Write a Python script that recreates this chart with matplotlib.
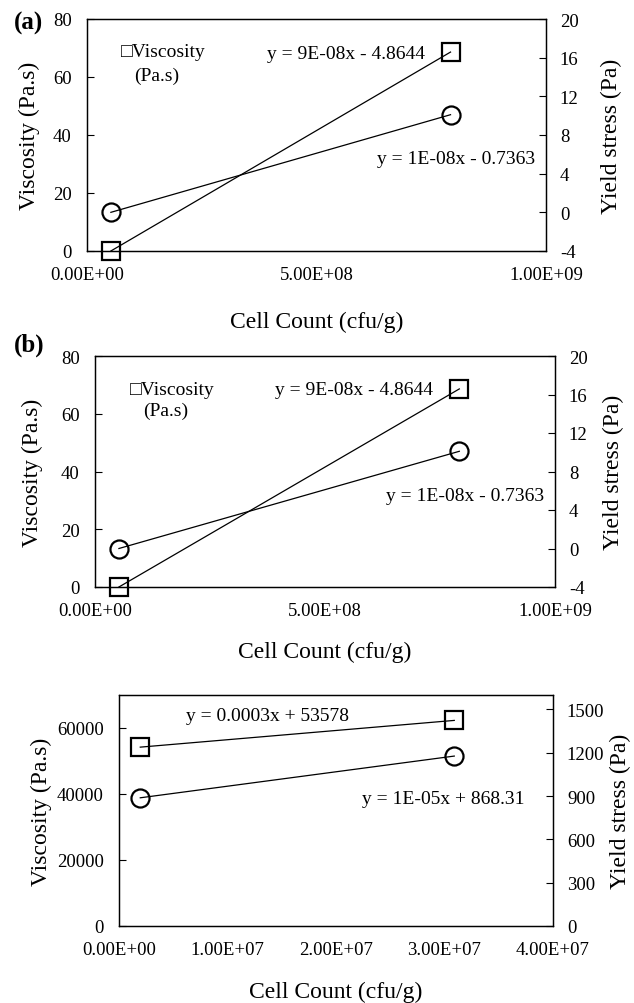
import matplotlib
matplotlib.use("Agg")
import matplotlib.pyplot as plt
from matplotlib.ticker import FuncFormatter

plt.rcParams['font.family'] = ['Liberation Serif', 'DejaVu Serif']
plt.rcParams['axes.unicode_minus'] = False

# panels (a) and (b): same data
ab_cells = [5.2e7, 7.92e8]
ab_visc = [0.0, 68.6]
ab_yield = [0.0, 10.1]
ab_eq_visc = 'y = 9E-08x - 4.8644'
ab_eq_yield = 'y = 1E-08x - 0.7363'
ab_xticks = [0, 5e8, 1e9]
ab_vticks = [0, 20, 40, 60, 80]
ab_yticks = [-4, 0, 4, 8, 12, 16, 20]

# panel (c)
c_cells = [1.96e6, 3.09e7]
c_visc = [54200, 62300]
c_yield = [888, 1177]
c_eq_visc = 'y = 0.0003x + 53578'
c_eq_yield = 'y = 1E-05x + 868.31'
c_xticks = [0, 1e7, 2e7, 3e7, 4e7]
c_vticks = [0, 20000, 40000, 60000]
c_yticks = [0, 300, 600, 900, 1200, 1500]

W, H = 634, 1004
fig = plt.figure(figsize=(W / 100, H / 100), dpi=100)


def box(l, r, t, b):
    return [l / W, 1 - b / H, (r - l) / W, (b - t) / H]


def panel(rect, cells, visc, yld, xticks, vticks, yticks, vlim, ylim, xlim,
          eq1, eq1pos, eq2, eq2pos, ylab_x, ylab2_x, xlab_y, legend=None):
    ax = fig.add_axes(rect)
    ax2 = ax.twinx()
    ax.plot(cells, visc, color='black', lw=0.9, marker='s', ms=13,
            mfc='none', mec='black', mew=1.6, zorder=3, clip_on=False)
    ax2.plot(cells, yld, color='black', lw=0.9, marker='o', ms=13,
             mfc='none', mec='black', mew=1.6, zorder=3, clip_on=False)
    ax.set_xlim(xlim)
    ax.set_ylim(vlim)
    ax2.set_ylim(ylim)
    ax.set_xticks(xticks)
    ax.xaxis.set_major_formatter(FuncFormatter(lambda v, p: f'{v:.2E}'))
    ax.set_yticks(vticks)
    ax2.set_yticks(yticks)
    ax.tick_params(axis='x', length=0, pad=11, labelsize=13.5)
    ax.tick_params(axis='y', direction='in', length=5, width=0.8, pad=11, labelsize=13.5)
    ax2.tick_params(axis='y', direction='in', length=5, width=0.8, pad=10, labelsize=13.5)
    for a in (ax, ax2):
        for s in a.spines.values():
            s.set_linewidth(0.9)
    ax.set_ylabel('Viscosity (Pa.s)', fontsize=17)
    ax2.set_ylabel('Yield stress (Pa)', fontsize=17)
    ax.set_xlabel('Cell Count (cfu/g)', fontsize=17)
    ax.yaxis.set_label_coords(ylab_x, 0.5)
    ax2.yaxis.set_label_coords(ylab2_x, 0.5)
    ax.xaxis.set_label_coords(0.5, xlab_y)
    for lab in (ax.yaxis.label, ax2.yaxis.label, ax.xaxis.label):
        lab.set_va('center')
        lab.set_ha('center')
    ax2.text(eq1pos[0], eq1pos[1], eq1, transform=ax2.transAxes,
             ha='center', va='center', fontsize=14)
    ax2.text(eq2pos[0], eq2pos[1], eq2, transform=ax2.transAxes,
             ha='center', va='center', fontsize=14)
    if legend:
        ax2.text(legend[0], legend[1], '\u25a1Viscosity', transform=ax2.transAxes,
                 ha='left', va='center', fontsize=14)
        ax2.text(legend[0] + 0.028, legend[2], '(Pa.s)', transform=ax2.transAxes,
                 ha='left', va='center', fontsize=14)
    return ax


panel(box(87, 546, 20, 252), ab_cells, ab_visc, ab_yield, ab_xticks, ab_vticks,
      ab_yticks, (0, 80), (-4, 20), (0, 1e9),
      ab_eq_visc, (0.564, 0.853), ab_eq_yield, (0.804, 0.397),
      -0.126, 1.142, -0.302, legend=(0.075, 0.858, 0.756))
fig.text(14 / W, 1 - 23 / H, '(a)', fontsize=18, fontweight='bold', ha='left', va='center')

panel(box(95, 555, 357, 588), ab_cells, ab_visc, ab_yield, ab_xticks, ab_vticks,
      ab_yticks, (0, 80), (-4, 20), (0, 1e9),
      ab_eq_visc, (0.564, 0.853), ab_eq_yield, (0.804, 0.397),
      -0.135, 1.126, -0.277, legend=(0.076, 0.857, 0.763))
fig.text(14 / W, 1 - 345 / H, '(b)', fontsize=18, fontweight='bold', ha='left', va='center')

panel(box(119, 553, 696, 927), c_cells, c_visc, c_yield, c_xticks, c_vticks,
      c_yticks, (0, 70000), (0, 1600), (0, 4e7),
      c_eq_visc, (0.342, 0.91), c_eq_yield, (0.746, 0.55),
      -0.179, 1.155, -0.281)

fig.savefig('out.png', dpi=100)
